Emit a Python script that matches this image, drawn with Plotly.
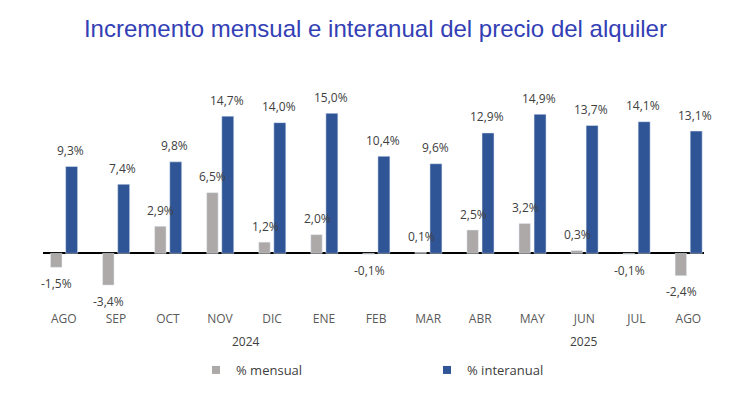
import plotly.graph_objects as go

months = ["AGO", "SEP", "OCT", "NOV", "DIC", "ENE", "FEB", "MAR", "ABR", "MAY", "JUN", "JUL", "AGO"]
mensual = [-1.5, -3.4, 2.9, 6.5, 1.2, 2.0, -0.1, 0.1, 2.5, 3.2, 0.3, -0.1, -2.4]
interanual = [9.3, 7.4, 9.8, 14.7, 14.0, 15.0, 10.4, 9.6, 12.9, 14.9, 13.7, 14.1, 13.1]
years = ["2024", "2025"]
year_pos = [3.5, 10]
series_names = ["% mensual", "% interanual"]

GRAY = "#ADA9A8"
BLUE = "#2F5597"
TXT = "#404040"

x = list(range(len(months)))

def fmt(v):
    return f"{v:.1f}".replace(".", ",") + "%"

fig = go.Figure()
fig.add_trace(go.Bar(x=x, y=mensual, name=series_names[0], marker_color=GRAY,
                     width=0.22, offset=-0.255, showlegend=False))
fig.add_trace(go.Bar(x=x, y=interanual, name=series_names[1], marker_color=BLUE,
                     width=0.23, offset=0.035, showlegend=False))
# legend entries with small square markers
for nm, col in zip(series_names, [GRAY, BLUE]):
    fig.add_trace(go.Scatter(x=[None], y=[None], mode="markers", name=nm,
                             marker=dict(symbol="square", size=8, color=col)))

ann = []
for i, v in enumerate(mensual):
    ann.append(dict(x=i, y=v, xref="x", yref="y", text=fmt(v), showarrow=False,
                    xshift=-7, yshift=16 if v > 0 else -16,
                    font=dict(size=12, color=TXT, family="Open Sans")))
for i, v in enumerate(interanual):
    ann.append(dict(x=i, y=v, xref="x", yref="y", text=fmt(v), showarrow=False,
                    xshift=7, yshift=16,
                    font=dict(size=12, color=TXT, family="Open Sans")))
for yl, p in zip(years, year_pos):
    ann.append(dict(x=p, y=-41 / 210, xref="x", yref="paper", text=yl, showarrow=False,
                    yanchor="middle", font=dict(size=12, color=TXT, family="Open Sans")))

fig.update_layout(
    width=732, height=393,
    margin=dict(l=35, r=36, t=82, b=101, autoexpand=False),
    paper_bgcolor="white", plot_bgcolor="white",
    title=dict(text="Incremento mensual e interanual del precio del alquiler",
               x=0.502, xanchor="center", y=0.948, yanchor="middle",
               font=dict(family="Liberation Sans Narrow, Arial Narrow, Liberation Sans, sans-serif", size=24, color="#3340B5")),
    barmode="overlay",
    showlegend=True,
    legend=dict(orientation="h", x=(188 - 35) / 661, xanchor="left", y=-70 / 210, yanchor="middle",
                entrywidth=186, entrywidthmode="pixels", itemwidth=30,
                font=dict(size=13, color=TXT, family="Open Sans")),
    annotations=ann,
    font=dict(family="Open Sans", color=TXT),
)
fig.update_xaxes(range=[-0.4, 12.3], tickvals=x, ticktext=months, showgrid=False,
                 showline=False, zeroline=False, ticks="outside", ticklen=8, tickcolor="rgba(0,0,0,0)",
                 tickfont=dict(size=12, color="#595959", family="Open Sans"))
fig.update_yaxes(range=[-5, 17.5], showgrid=False, showticklabels=False, zeroline=True,
                 zerolinecolor="black", zerolinewidth=1.5, showline=False)

fig.write_html("out.html")
